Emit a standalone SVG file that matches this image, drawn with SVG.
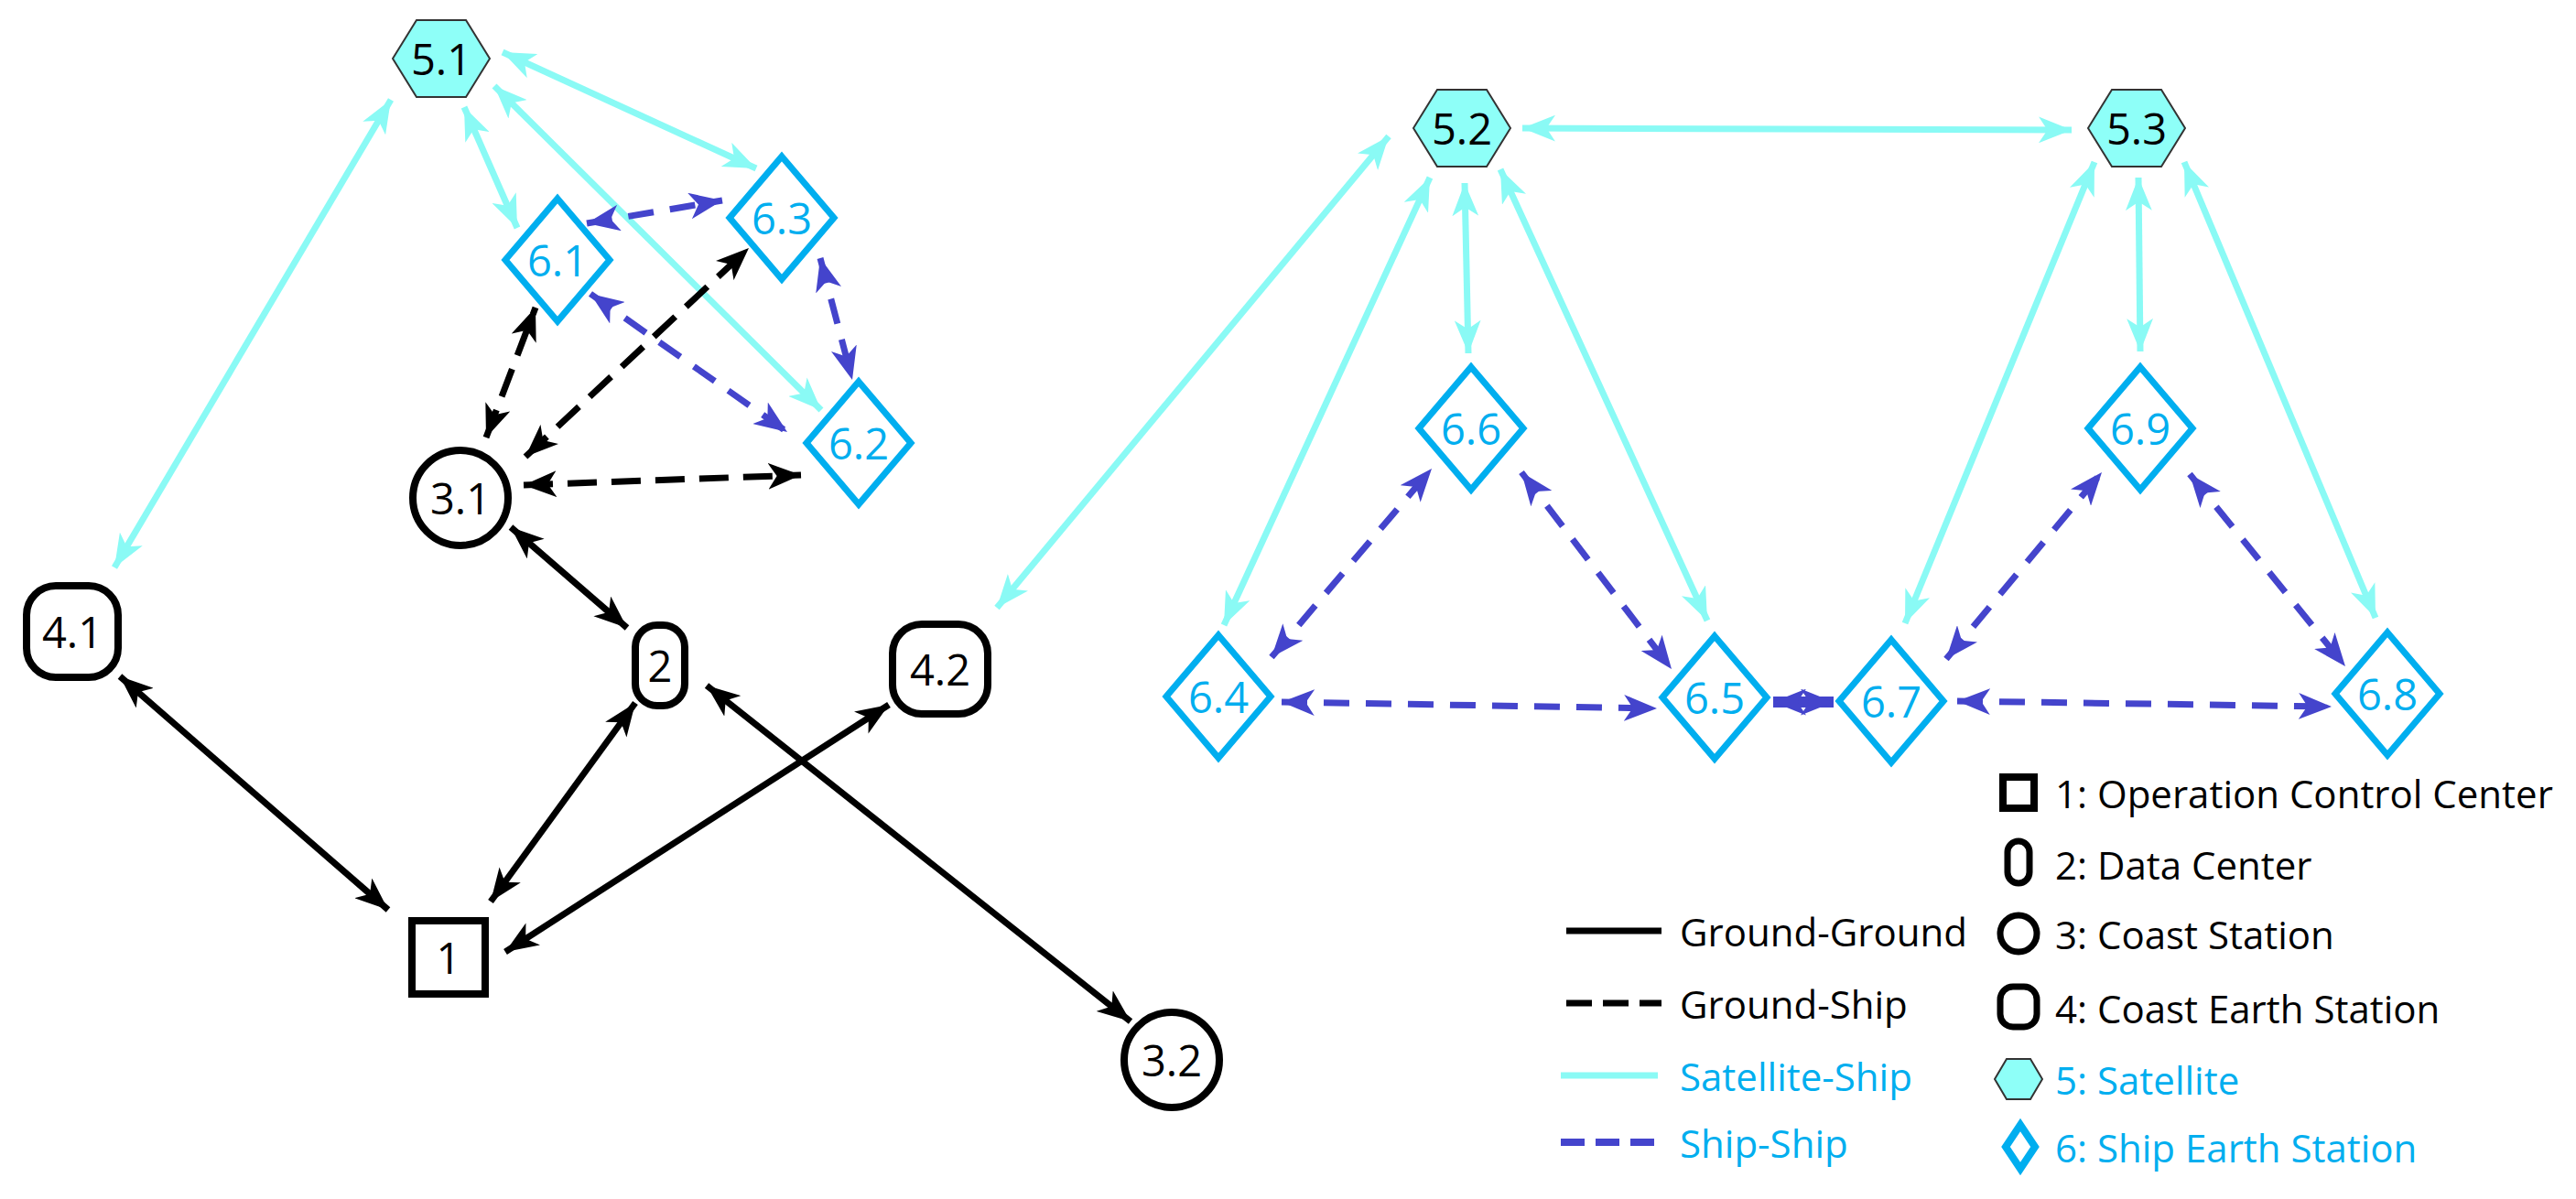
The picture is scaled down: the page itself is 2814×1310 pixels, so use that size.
<svg xmlns="http://www.w3.org/2000/svg" width="2814" height="1310" viewBox="0 0 2814 1310">
<style>
text{font-family:"Open Sans","Noto Sans","Liberation Sans",sans-serif;font-size:47px;dominant-baseline:central;text-anchor:middle}
.k{fill:#000}.c{fill:#00AEEF}
.hex{fill:#8EFFF8;stroke:#333;stroke-width:2}
.dia{fill:#fff;stroke:#00AEEF;stroke-width:7}
.gnd{fill:#fff;stroke:#000;stroke-width:8}
.gg{stroke:#000;stroke-width:7;fill:none;marker-start:url(#ak);marker-end:url(#ak)}
.gs{stroke:#000;stroke-width:7;fill:none;stroke-dasharray:32 16;marker-start:url(#ak);marker-end:url(#ak)}
.ss{stroke:#8AFAF5;stroke-width:7;fill:none;marker-start:url(#ac);marker-end:url(#ac)}
.sh{stroke:#4444CC;stroke-width:7;fill:none;stroke-dasharray:28 18;marker-start:url(#ab);marker-end:url(#ab)}
.lt{text-anchor:start;font-size:42px}
</style>
<defs>
<marker id="ak" viewBox="0 0 30 24" refX="30" refY="12" markerWidth="36" markerHeight="29" markerUnits="userSpaceOnUse" orient="auto-start-reverse"><path d="M0,0 L30,12 L0,24 L8,12 z" fill="#000"/></marker>
<marker id="ac" viewBox="0 0 30 24" refX="30" refY="12" markerWidth="36" markerHeight="29" markerUnits="userSpaceOnUse" orient="auto-start-reverse"><path d="M0,0 L30,12 L0,24 L8,12 z" fill="#8AFAF5"/></marker>
<marker id="ab" viewBox="0 0 30 24" refX="30" refY="12" markerWidth="36" markerHeight="29" markerUnits="userSpaceOnUse" orient="auto-start-reverse"><path d="M0,0 L30,12 L0,24 L8,12 z" fill="#4444CC"/></marker>
</defs>
<rect width="2814" height="1310" fill="#fff"/>
<g id="connectors">
<line class="ss" x1="427" y1="109" x2="125" y2="620"/>
<line class="ss" x1="549" y1="57" x2="826" y2="184"/>
<line class="ss" x1="507" y1="117" x2="565" y2="249"/>
<line class="ss" x1="540" y1="94" x2="897" y2="448"/>
<line class="ss" x1="1517" y1="149" x2="1089" y2="664"/>
<line class="ss" x1="1562" y1="194" x2="1337" y2="683"/>
<line class="ss" x1="1600" y1="200" x2="1604" y2="386"/>
<line class="ss" x1="1639" y1="185" x2="1865" y2="678"/>
<line class="ss" x1="1663" y1="140" x2="2263" y2="142"/>
<line class="ss" x1="2288" y1="177" x2="2081" y2="681"/>
<line class="ss" x1="2336" y1="194" x2="2338" y2="384"/>
<line class="ss" x1="2386" y1="177" x2="2595" y2="675"/>
<line class="sh" x1="641" y1="244" x2="789" y2="219"/>
<line class="sh" x1="896" y1="282" x2="931" y2="415"/>
<line class="sh" x1="645" y1="321" x2="860" y2="472"/>
<line class="sh" x1="1389" y1="718" x2="1564" y2="512"/>
<line class="sh" x1="1662" y1="516" x2="1826" y2="731"/>
<line class="sh" x1="1400" y1="767" x2="1810" y2="774"/>
<line class="sh" x1="2138" y1="766" x2="2547" y2="772"/>
<line class="sh" x1="2126" y1="720" x2="2296" y2="516"/>
<line class="sh" x1="2392" y1="518" x2="2562" y2="728"/>
<line x1="1937" y1="767" x2="2003" y2="767" stroke="#4444CC" stroke-width="12" marker-start="url(#ab)" marker-end="url(#ab)"/>
<line class="gs" x1="531" y1="478" x2="585" y2="336"/>
<line class="gs" x1="574" y1="499" x2="818" y2="271"/>
<line class="gs" x1="572" y1="530" x2="875" y2="519"/>
<line class="gg" x1="558" y1="576" x2="685" y2="686"/>
<line class="gg" x1="131" y1="739" x2="424" y2="994"/>
<line class="gg" x1="694" y1="768" x2="536" y2="985"/>
<line class="gg" x1="552" y1="1040" x2="971" y2="770"/>
<line class="gg" x1="772" y1="749" x2="1235" y2="1116"/>
</g>
<g id="n5_1"><polygon class="hex" points="429,64 455,22 509,22 535,64 509,106 455,106"/><text class="k" x="482" y="64">5.1</text></g>
<g id="n5_2"><polygon class="hex" points="1544,140 1570,98 1624,98 1650,140 1624,182 1570,182"/><text class="k" x="1597" y="140">5.2</text></g>
<g id="n5_3"><polygon class="hex" points="2281,140 2307,98 2361,98 2387,140 2361,182 2307,182"/><text class="k" x="2334" y="140">5.3</text></g>
<g id="n6_1"><polygon class="dia" points="609,217 666,284 609,351 552,284"/><text class="c" x="609" y="284">6.1</text></g>
<g id="n6_3"><polygon class="dia" points="854,171 911,238 854,305 797,238"/><text class="c" x="854" y="238">6.3</text></g>
<g id="n6_2"><polygon class="dia" points="938,417 995,484 938,551 881,484"/><text class="c" x="938" y="484">6.2</text></g>
<g id="n6_4"><polygon class="dia" points="1331,694 1388,761 1331,828 1274,761"/><text class="c" x="1331" y="761">6.4</text></g>
<g id="n6_6"><polygon class="dia" points="1607,401 1664,468 1607,535 1550,468"/><text class="c" x="1607" y="468">6.6</text></g>
<g id="n6_9"><polygon class="dia" points="2338,401 2395,468 2338,535 2281,468"/><text class="c" x="2338" y="468">6.9</text></g>
<g id="n6_5"><polygon class="dia" points="1873,695 1930,762 1873,829 1816,762"/><text class="c" x="1873" y="762">6.5</text></g>
<g id="n6_7"><polygon class="dia" points="2066,699 2123,766 2066,833 2009,766"/><text class="c" x="2066" y="766">6.7</text></g>
<g id="n6_8"><polygon class="dia" points="2608,691 2665,758 2608,825 2551,758"/><text class="c" x="2608" y="758">6.8</text></g>
<g id="n3_1"><circle class="gnd" cx="503" cy="544" r="52"/><text class="k" x="503" y="544">3.1</text></g>
<g id="n3_2"><circle class="gnd" cx="1280" cy="1158" r="52"/><text class="k" x="1280" y="1158">3.2</text></g>
<g id="n4_1"><rect class="gnd" x="29" y="640" width="100" height="100" rx="32"/><text class="k" x="79" y="690">4.1</text></g>
<g id="n4_2"><rect class="gnd" x="975" y="682" width="104" height="98" rx="32"/><text class="k" x="1027" y="731">4.2</text></g>
<g id="n2"><rect class="gnd" x="694" y="683" width="54" height="88" rx="24"/><text class="k" x="721" y="727">2</text></g>
<g id="n1"><rect class="gnd" x="450" y="1006" width="80" height="80"/><text class="k" x="490" y="1046">1</text></g>
<g id="legend">
<line x1="1711" y1="1017" x2="1815" y2="1017" stroke="#000" stroke-width="7"/>
<line x1="1711" y1="1096" x2="1815" y2="1096" stroke="#000" stroke-width="7" stroke-dasharray="28 12"/>
<line x1="1705" y1="1175" x2="1811" y2="1175" stroke="#8AFAF5" stroke-width="7"/>
<line x1="1705" y1="1248" x2="1811" y2="1248" stroke="#4444CC" stroke-width="8" stroke-dasharray="26 12"/>
<text class="lt k" x="1835" y="1017">Ground-Ground</text>
<text class="lt k" x="1835" y="1096">Ground-Ship</text>
<text class="lt c" x="1835" y="1175">Satellite-Ship</text>
<text class="lt c" x="1835" y="1248">Ship-Ship</text>
<rect x="2188" y="849" width="34" height="34" fill="none" stroke="#000" stroke-width="8"/>
<rect x="2193" y="919" width="24" height="46" rx="12" fill="none" stroke="#000" stroke-width="7"/>
<circle cx="2205" cy="1020" r="20" fill="none" stroke="#000" stroke-width="7"/>
<rect x="2185" y="1078" width="40" height="44" rx="14" fill="none" stroke="#000" stroke-width="7"/>
<polygon class="hex" points="2179,1179 2192,1157 2218,1157 2231,1179 2218,1201 2192,1201"/>
<polygon points="2207,1229 2223,1253 2207,1277 2191,1253" fill="none" stroke="#00AEEF" stroke-width="8"/>
<text class="lt k" x="2245" y="866">1: Operation Control Center</text>
<text class="lt k" x="2245" y="944">2: Data Center</text>
<text class="lt k" x="2245" y="1020">3: Coast Station</text>
<text class="lt k" x="2245" y="1101">4: Coast Earth Station</text>
<text class="lt c" x="2245" y="1179">5: Satellite</text>
<text class="lt c" x="2245" y="1253">6: Ship Earth Station</text>
</g>
</svg>
